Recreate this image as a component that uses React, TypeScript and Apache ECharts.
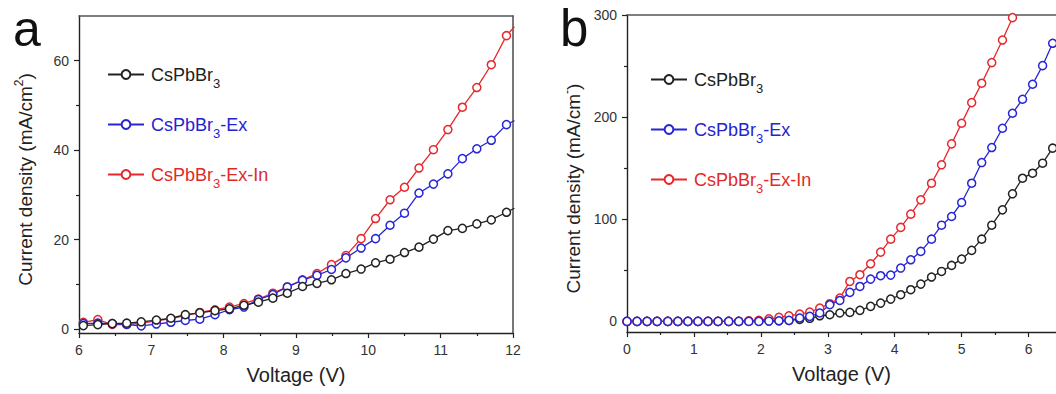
import React, { useEffect, useRef } from 'react';
import * as echarts from 'echarts';

const seriesNames = ['CsPbBr3', 'CsPbBr3-Ex', 'CsPbBr3-Ex-In'];
const seriesColors = ['#222222', '#2626d6', '#e6282c'];
const legendTextColors = ['#222222', '#2424d0', '#e02a2a'];

// Panel a
const voltageA = [6.06, 6.26, 6.46, 6.66, 6.86, 7.07, 7.27, 7.47, 7.67, 7.88, 8.08, 8.28, 8.48, 8.68, 8.88, 9.09, 9.29, 9.49, 9.69, 9.9, 10.1, 10.3, 10.5, 10.7, 10.9, 11.1, 11.3, 11.5, 11.7, 11.91, 12.02];
const densityA_base = [0.75, 0.97, 1.2, 1.3, 1.6, 2.0, 2.4, 3.2, 3.6, 4.1, 4.5, 5.3, 6.0, 6.9, 8.0, 9.5, 10.2, 11.0, 12.4, 13.4, 14.8, 15.6, 17.1, 18.3, 20.1, 22.0, 22.5, 23.5, 24.4, 26.1, 27.0];
const densityA_ex = [1.2, 1.3, 1.2, 1.0, 0.7, 1.1, 1.5, 1.9, 2.2, 3.2, 4.3, 4.9, 6.6, 7.7, 9.4, 10.9, 12.0, 13.3, 15.9, 18.1, 20.2, 23.2, 25.9, 30.4, 32.4, 34.7, 38.1, 40.3, 42.2, 45.7, 46.6];
const densityA_exIn = [1.5, 2.1, 1.0, 1.0, 1.3, 1.8, 2.3, 3.0, 3.7, 4.3, 4.9, 5.7, 6.7, 8.0, 9.4, 11.0, 12.4, 14.4, 16.4, 20.2, 24.7, 28.9, 31.7, 36.0, 40.1, 44.6, 49.6, 54.0, 59.1, 65.6, 67.6];
const xTicksA = [6, 7, 8, 9, 10, 11, 12];
const xMinorA = [6.5, 7.5, 8.5, 9.5, 10.5, 11.5];
const yTicksA = [0, 20, 40, 60];
const yMinorA = [10, 30, 50];

// Panel b
const voltageB = [0, 0.15, 0.3, 0.45, 0.61, 0.76, 0.91, 1.06, 1.21, 1.36, 1.52, 1.67, 1.82, 1.97, 2.12, 2.27, 2.42, 2.58, 2.73, 2.88, 3.03, 3.18, 3.33, 3.48, 3.64, 3.79, 3.94, 4.09, 4.24, 4.39, 4.55, 4.7, 4.85, 5.0, 5.15, 5.3, 5.45, 5.61, 5.76, 5.91, 6.06, 6.21, 6.36];
const densityB_base = [0, 0, 0, 0, 0, 0, 0, 0, 0, 0, 0, 0, 0.2, 0.3, 0.5, 0.7, 1.0, 2.0, 3.0, 5.5, 6.5, 8.2, 8.8, 10.8, 14.7, 17.9, 21.8, 26.1, 31.0, 36.5, 43.4, 48.9, 54.8, 61.0, 69.5, 80.5, 94.2, 109.2, 124.9, 140.2, 145.1, 154.9, 169.6];
const densityB_ex = [0, 0, 0, 0, 0, 0, 0, 0, 0, 0, 0, 0, 0, 0, 0.3, 0.6, 1.0, 3.3, 4.9, 8.2, 16.3, 20.5, 28.4, 34.2, 41.4, 44.7, 45.3, 52.2, 60.3, 68.5, 80.5, 94.2, 102.7, 116.4, 135.3, 155.5, 170.2, 189.1, 203.8, 217.5, 232.2, 250.4, 272.3];
const densityB_exIn = [0, 0, 0, 0, 0, 0, 0, 0, 0, 0, 0, 0, 0.5, 1.0, 2.5, 3.9, 5.5, 7.2, 9.1, 13.0, 17.3, 22.8, 39.1, 45.7, 56.4, 67.8, 80.5, 92.0, 105.0, 119.0, 135.3, 153.3, 173.8, 194.0, 214.2, 233.2, 253.4, 275.5, 297.4, 320];
const xTicksB = [0, 1, 2, 3, 4, 5, 6];
const xMinorB = [0.5, 1.5, 2.5, 3.5, 4.5, 5.5];
const yTicksB = [0, 100, 200, 300];
const yMinorB = [50, 150, 250];

const FONT = 'Liberation Sans, Arial, sans-serif';
const AXIS_DARK = '#222';
const AXIS_GRAY = '#555';

function pairs(xs: number[], ys: number[]) {
  return ys.map((y, i) => [xs[i], y]);
}

function lineSeries(name: string, color: string, data: number[][], xi: number, yi: number) {
  return {
    type: 'line',
    name,
    xAxisIndex: xi,
    yAxisIndex: yi,
    data,
    symbol: 'circle',
    symbolSize: 8,
    showSymbol: true,
    clip: true,
    lineStyle: { color, width: 1.3 },
    itemStyle: { color: '#ffffff', borderColor: color, borderWidth: 1.5 },
    emphasis: { disabled: true },
  };
}

function mainX(gridIndex: number, min: number, max: number, ticks: number[], name: string) {
  return {
    type: 'value', gridIndex, min, max, position: 'bottom',
    name, nameLocation: 'middle', nameGap: 32,
    nameTextStyle: { fontSize: 20, color: AXIS_DARK, fontFamily: FONT },
    axisLine: { show: true, onZero: false, lineStyle: { color: AXIS_DARK, width: 1.4 } },
    axisTick: { show: true, inside: false, length: 5, customValues: ticks, lineStyle: { color: AXIS_DARK, width: 1.2 } },
    axisLabel: { show: true, customValues: ticks, margin: 10, fontSize: 14, color: '#333', fontFamily: FONT },
    splitLine: { show: false },
  };
}
function minorX(gridIndex: number, min: number, max: number, ticks: number[]) {
  return {
    type: 'value', gridIndex, min, max, position: 'bottom',
    axisLine: { show: false, onZero: false },
    axisTick: { show: true, inside: false, length: 3, customValues: ticks, lineStyle: { color: AXIS_DARK, width: 1.2 } },
    axisLabel: { show: false },
    splitLine: { show: false },
  };
}
function topX(gridIndex: number, min: number, max: number) {
  return {
    type: 'value', gridIndex, min, max, position: 'top',
    axisLine: { show: true, onZero: false, lineStyle: { color: AXIS_GRAY, width: 1.6 } },
    axisTick: { show: false }, axisLabel: { show: false }, splitLine: { show: false },
  };
}
function mainY(gridIndex: number, min: number, max: number, ticks: number[], name: string, shiftPad: number) {
  return {
    type: 'value', gridIndex, min, max, position: 'left',
    name, nameLocation: 'middle', nameGap: 42,
    nameTextStyle: {
      fontSize: 19, color: AXIS_DARK, fontFamily: FONT, padding: [0, shiftPad, 0, 0],
      rich: { sup: { fontSize: 12, color: AXIS_DARK, fontFamily: FONT, padding: [0, 0, 12, 0] } },
    },
    axisLine: { show: true, onZero: false, lineStyle: { color: AXIS_DARK, width: 1.4 } },
    axisTick: { show: true, inside: false, length: 5, customValues: ticks, lineStyle: { color: AXIS_DARK, width: 1.2 } },
    axisLabel: { show: true, customValues: ticks, margin: 10, fontSize: 14, color: '#333', fontFamily: FONT },
    splitLine: { show: false },
  };
}
function minorY(gridIndex: number, min: number, max: number, ticks: number[]) {
  return {
    type: 'value', gridIndex, min, max, position: 'left',
    axisLine: { show: false, onZero: false },
    axisTick: { show: true, inside: false, length: 3, customValues: ticks, lineStyle: { color: AXIS_DARK, width: 1.2 } },
    axisLabel: { show: false },
    splitLine: { show: false },
  };
}
function rightY(gridIndex: number, min: number, max: number) {
  return {
    type: 'value', gridIndex, min, max, position: 'right',
    axisLine: { show: true, onZero: false, lineStyle: { color: AXIS_GRAY, width: 1.6 } },
    axisTick: { show: false }, axisLabel: { show: false }, splitLine: { show: false },
  };
}

function legendFor(left: number, top: number) {
  return {
    orient: 'vertical', left, top, padding: 0,
    itemWidth: 36, itemHeight: 11, itemGap: 19,
    selectedMode: false,
    data: seriesNames.map((n, i) => ({ name: n, textStyle: { color: legendTextColors[i] } })),
    formatter: (n: string) => n.replace('Br3', 'Br{sub|3}'),
    textStyle: {
      fontSize: 18, fontFamily: FONT, lineHeight: 20, padding: [0, 0, 0, 2],
      rich: { sub: { fontSize: 13, fontFamily: FONT, lineHeight: 13, padding: [18, 0, 0, 0] } },
    },
  };
}

export default function App() {
  const ref = useRef<HTMLDivElement>(null);
  useEffect(() => {
    if (!ref.current) return;
    const chart = echarts.init(ref.current, null, { renderer: 'svg' });
    const option = {
      animation: false,
      backgroundColor: '#ffffff',
      grid: [
        { left: 79, top: 16, width: 434, height: 317 },
        { left: 627, top: 15, width: 429, height: 317 },
      ],
      xAxis: [
        mainX(0, 6, 12, xTicksA, 'Voltage (V)'),
        minorX(0, 6, 12, xMinorA),
        topX(0, 6, 12),
        mainX(1, 0, 6.41, xTicksB, 'Voltage (V)'),
        minorX(1, 0, 6.41, xMinorB),
        topX(1, 0, 6.41),
      ],
      yAxis: [
        mainY(0, -0.9, 70, yTicksA, 'Current density (mA/cm{sup|2})', 10),
        minorY(0, -0.9, 70, yMinorA),
        rightY(0, -0.9, 70),
        mainY(1, -10.4, 300, yTicksB, 'Current density (mA/cm{sup|-})', 30),
        minorY(1, -10.4, 300, yMinorB),
      ],
      legend: [legendFor(107, 59), legendFor(650, 64)],
      graphic: [
        { type: 'text', left: 13, top: 4, style: { text: 'a', fontSize: 50, fontFamily: FONT, fill: '#111' } },
        { type: 'text', left: 560, top: 3, style: { text: 'b', fontSize: 51, fontFamily: FONT, fill: '#111' } },
      ],
      series: [
        lineSeries(seriesNames[2], seriesColors[2], pairs(voltageA, densityA_exIn), 0, 0),
        lineSeries(seriesNames[1], seriesColors[1], pairs(voltageA, densityA_ex), 0, 0),
        lineSeries(seriesNames[0], seriesColors[0], pairs(voltageA, densityA_base), 0, 0),
        lineSeries(seriesNames[0], seriesColors[0], pairs(voltageB, densityB_base), 3, 3),
        lineSeries(seriesNames[2], seriesColors[2], pairs(voltageB, densityB_exIn), 3, 3),
        lineSeries(seriesNames[1], seriesColors[1], pairs(voltageB, densityB_ex), 3, 3),
      ],
    };
    chart.setOption(option as any);
    return () => chart.dispose();
  }, []);
  return (
    <div
      ref={ref}
      style={{ position: 'absolute', left: 0, top: 0, width: 1056, height: 394, background: '#fff' }}
    />
  );
}
